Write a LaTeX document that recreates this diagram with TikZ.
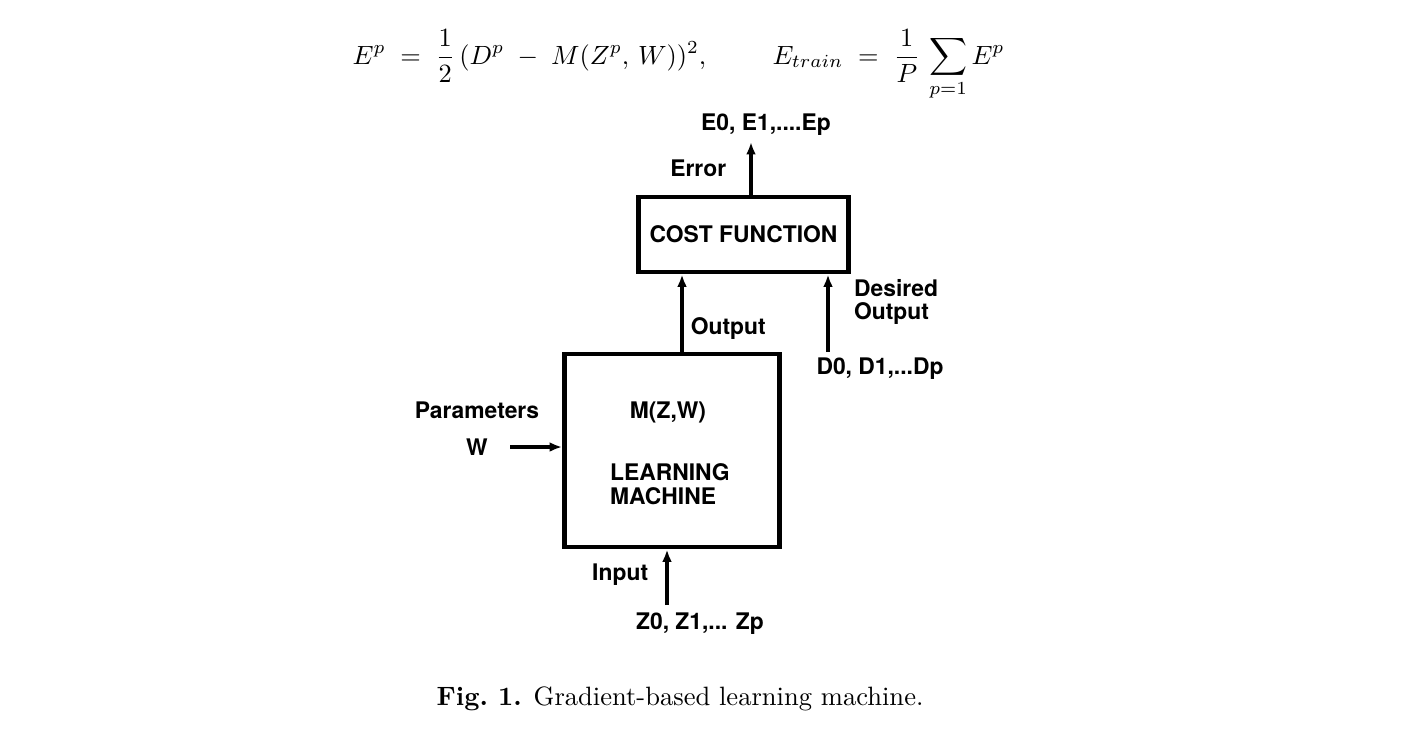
\documentclass[tikz,border=0pt]{standalone}
\usepackage{amsmath}
\usepackage{fontspec}
\newfontfamily\helv{TeX Gyre Heros}
\usepackage{tikz}
\usetikzlibrary{positioning,arrows.meta}

\begin{document}
\begin{tikzpicture}[
    box/.style={draw, rectangle, line width=2.8pt, inner sep=0pt},
    lbl/.style={font=\helv\bfseries\fontsize{13}{13.6}\selectfont, align=left, inner sep=1pt},
    line/.style={draw, -{Latex[length=7pt,width=5.5pt]}, line width=2.4pt}
]
    \useasboundingbox (0,0) rectangle (28.08,-14.88);

    % Equations
    \node[anchor=base west, scale=1.5, inner sep=0pt] (eqa) at (7.04,-1.28) {$\displaystyle E^p\;=\;\frac{1}{2}\,(D^p\;-\;M(Z^p,\,W))^2,$};
    \node[anchor=base west, scale=1.5, inner sep=0pt] (eqb) at (15.44,-1.28) {$\displaystyle E_{train}\;=\;\frac{1}{P}\,\sum_{p=1}E^p$};

    % Nodes
    \node[box, minimum width=4.3cm, minimum height=3.86cm] (lm) at (13.44,-9.01) {};
    \node[lbl] (mzw) at (13.36,-8.24) {M(Z,W)};
    \node[lbl, anchor=west] (lmtext) at (12.16,-9.68) {LEARNING\\MACHINE};
    \node[box, lbl, minimum width=4.2cm, minimum height=1.5cm] (cost) at (14.87,-4.69) {COST FUNCTION};
    \node[lbl] (errs) at (15.32,-2.5) {E0, E1,....Ep};
    \node[lbl, anchor=west] (desired) at (17.04,-6.04) {Desired\\Output};
    \node[lbl] (ds) at (17.6,-7.38) {D0, D1,...Dp};
    \node[lbl] (params) at (9.54,-8.2) {Parameters};
    \node[lbl] (w) at (9.54,-8.94) {W};
    \node[lbl] (zs) at (14.0,-12.48) {Z0, Z1,... Zp};
    \coordinate (errtip) at (15.02,-2.84);
    \coordinate (dstart) at (16.56,-7.04);
    \coordinate (wstart) at (10.2,-8.94);
    \coordinate (instart) at (13.34,-12.1);

    % Caption
    \node[anchor=base, scale=1.51] (caption) at (13.6,-14.1) {\textbf{Fig.\ 1.} Gradient-based learning machine.};

    % Connections
    \draw[line] (cost.north -| errtip) -- node[lbl, left=0.42cm] {Error} (errtip);
    \draw[line] ([xshift=0.2cm]lm.north) -- node[lbl, right=0.1cm, pos=0.3] {Output} ([xshift=0.2cm]lm.north |- cost.south);
    \draw[line] (dstart) -- (dstart |- cost.south);
    \draw[line] (wstart) -- (wstart -| lm.west);
    \draw[line] (instart) -- node[lbl, left=0.3cm, pos=0.55] {Input} (instart |- lm.south);
\end{tikzpicture}
\end{document}
